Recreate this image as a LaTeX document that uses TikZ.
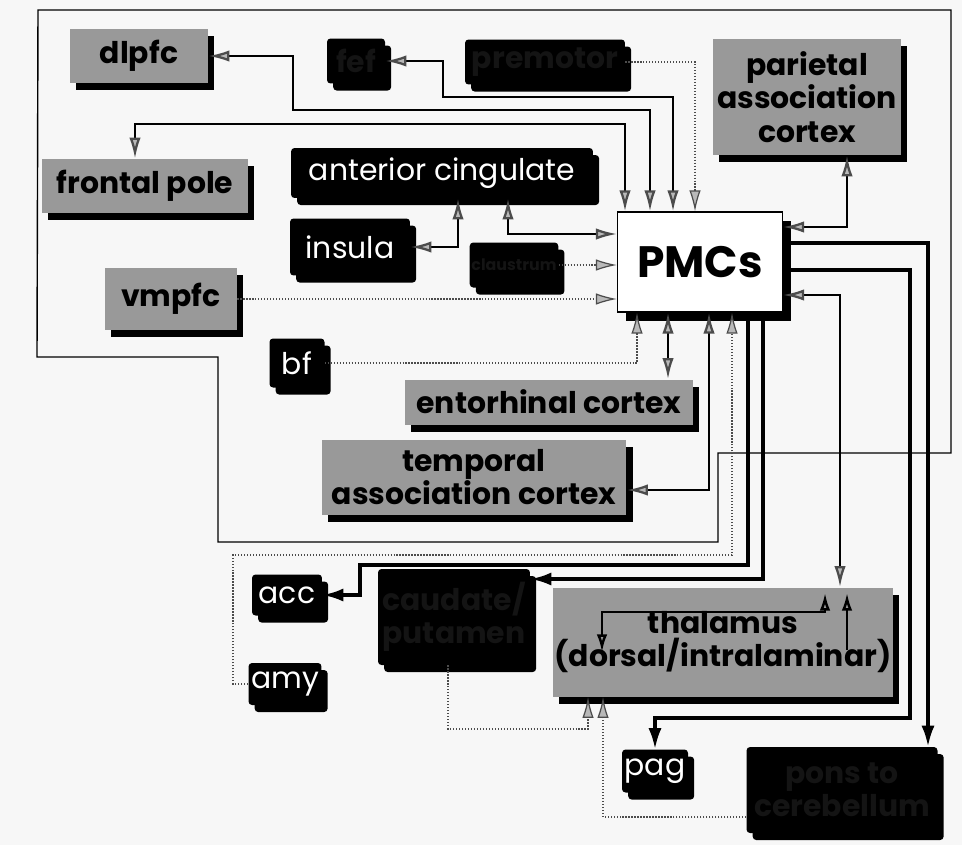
\documentclass[tikz,border=0pt]{standalone}
\usepackage{fontspec}
\setmainfont{Poppins}
\usetikzlibrary{arrows.meta,shadows}

\tikzset{
  gtip/.tip={Latex[length=12pt,width=6.5pt,color=black!70,fill=gray!55]},
  btip/.tip={Latex[length=12pt,width=7.5pt]},
  otip/.tip={Latex[open,length=10pt,width=6pt]},
  box/.style={rectangle, inner sep=1pt, align=center,
    font=\fontsize{17}{19}\selectfont\bfseries,
    drop shadow={shadow xshift=3.5pt, shadow yshift=-4pt, opacity=1, fill=black}},
  graybox/.style={box, fill=gray!80, text=black},
  blackbox/.style={box, fill=black, text=white, rounded corners=2pt,
    font=\fontsize{17}{19}\selectfont},
  darkbox/.style={box, fill=black, text=black!92, rounded corners=2pt},
  pmcbox/.style={rectangle, draw=black, line width=0.6pt, fill=white,
    font=\fontsize{25}{28}\selectfont\bfseries,
    drop shadow={shadow xshift=5pt, shadow yshift=-5pt, opacity=1, fill=black}},
  cortex/.style={line width=0.8pt},
  link/.style={line width=1.3pt, gtip-gtip},
  feed/.style={draw=gray!60!black, densely dotted, line width=0.7pt, -gtip},
  proj/.style={line width=1.9pt, -btip},
  inner/.style={line width=1.4pt}
}

\begin{document}
\begin{tikzpicture}[x=0.02cm, y=-0.02cm]
  \fill[gray!6] (0,0) rectangle (962,845);
  \useasboundingbox (0,0) rectangle (962,845);

  % cortical outline
  \draw[cortex] (38,10) -- (951,10) -- (951,453) -- (718,453) -- (718,542)
    -- (218,542) -- (218,357) -- (37,357) -- cycle;

  % cortical areas
  \node[graybox, minimum width=2.76cm, minimum height=1.08cm] (dlpfc) at (139,56) {dlpfc};
  \node[darkbox, minimum width=1.16cm, minimum height=0.9cm] (fef) at (356,61) {fef};
  \node[darkbox, minimum width=3.2cm, minimum height=0.9cm] (premotor) at (545,62) {premotor};
  \node[graybox, minimum width=3.76cm, minimum height=2.32cm] (parietal) at (807,97) {parietal\\association\\cortex};
  \node[graybox, minimum width=4.12cm, minimum height=1.08cm] (frontalpole) at (145,186) {frontal pole};
  \node[blackbox, minimum width=6.04cm, minimum height=1.0cm] (cingulate) at (442,173) {anterior cingulate};
  \node[blackbox, minimum width=2.4cm, minimum height=1.14cm] (insula) at (350,247) {insula};
  \node[darkbox, minimum width=1.5cm, minimum height=0.9cm, font=\fontsize{9}{10}\selectfont\bfseries] (claustrum) at (514,265) {claustrum};
  \node[pmcbox, minimum width=3.3cm, minimum height=2.0cm] (pmc) at (700,262) {PMCs};
  \node[graybox, minimum width=2.64cm, minimum height=1.24cm] (vmpfc) at (171,299) {vmpfc};
  \node[blackbox, minimum width=1.1cm, minimum height=0.98cm] (bf) at (297,363) {bf};
  \node[graybox, minimum width=5.76cm, minimum height=0.9cm] (entorhinal) at (549,402) {entorhinal cortex};
  \node[graybox, minimum width=6.1cm, minimum height=1.5cm] (temporal) at (474,477) {temporal\\association cortex};

  % subcortical structures
  \node[blackbox, minimum width=1.4cm, minimum height=0.82cm] (acc) at (287,595) {acc};
  \node[blackbox, minimum width=1.46cm, minimum height=0.84cm] (amy) at (285,684) {amy};
  \node[darkbox, minimum width=3.04cm, minimum height=1.92cm] (caudate) at (454,617) {caudate/\\putamen};
  \node[graybox, minimum width=6.8cm, minimum height=2.18cm] (thalamus) at (723,642) {thalamus\\(dorsal/intralaminar)};
  \node[blackbox, minimum width=1.32cm, minimum height=0.86cm] (pag) at (655,771) {pag};
  \node[darkbox, minimum width=3.82cm, minimum height=1.72cm] (pons) at (842,790) {pons to\\cerebellum};

  % reciprocal links with cortex
  \draw[link] (dlpfc.east) -| (293,110) -| (650,0 |- pmc.north);
  \draw[link] (fef.east) -| (443,97) -| (673,0 |- pmc.north);
  \draw[link] (135,0 |- frontalpole.north) -- (135,124) -| (625,0 |- pmc.north);
  \draw[link] (847,0 |- parietal.south) |- (pmc.east |- 0,227);
  \draw[link] (508,0 |- cingulate.south) |- (pmc.west |- 0,234);
  \draw[link] (insula.east) -| (458,0 |- cingulate.south);
  \draw[link] (668,0 |- pmc.south) -- (668,0 |- entorhinal.north);
  \draw[link] (temporal.east |- 0,490) -| (709,0 |- pmc.south);
  \draw[link] (pmc.east |- 0,295) -| (840,0 |- thalamus.north);

  % inputs to the PMCs
  \draw[feed] (premotor.east) -| (695,0 |- pmc.north);
  \draw[feed] (claustrum.east) -- (pmc.west |- claustrum.east);
  \draw[feed] (vmpfc.east) -- (pmc.west |- vmpfc.east);
  \draw[feed] (bf.east) -| (637,0 |- pmc.south);
  \draw[feed] (amy.west) -| (233,555) -| (732,0 |- pmc.south);
  \draw[feed] (448,0 |- caudate.south) |- (588,729) -- (588,0 |- thalamus.south);
  \draw[feed] (pons.west |- 0,817) -| (603,0 |- thalamus.south);

  % outputs of the PMCs
  \draw[proj] (748,0 |- pmc.south) |- (360,565) |- (acc.east);
  \draw[proj] (763,0 |- pmc.south) |- (caudate.east |- 0,579);
  \draw[proj] (pmc.east |- 0,243) -| (928,0 |- pons.north);
  \draw[proj] (pmc.east |- 0,270) -| (910,718) -| (pag.north);

  % within the thalamus
  \draw[inner, otip-otip] (602,652) |- (825,612) -- (825,593);
  \draw[inner, -otip] (847,650) -- (847,593);
\end{tikzpicture}
\end{document}
